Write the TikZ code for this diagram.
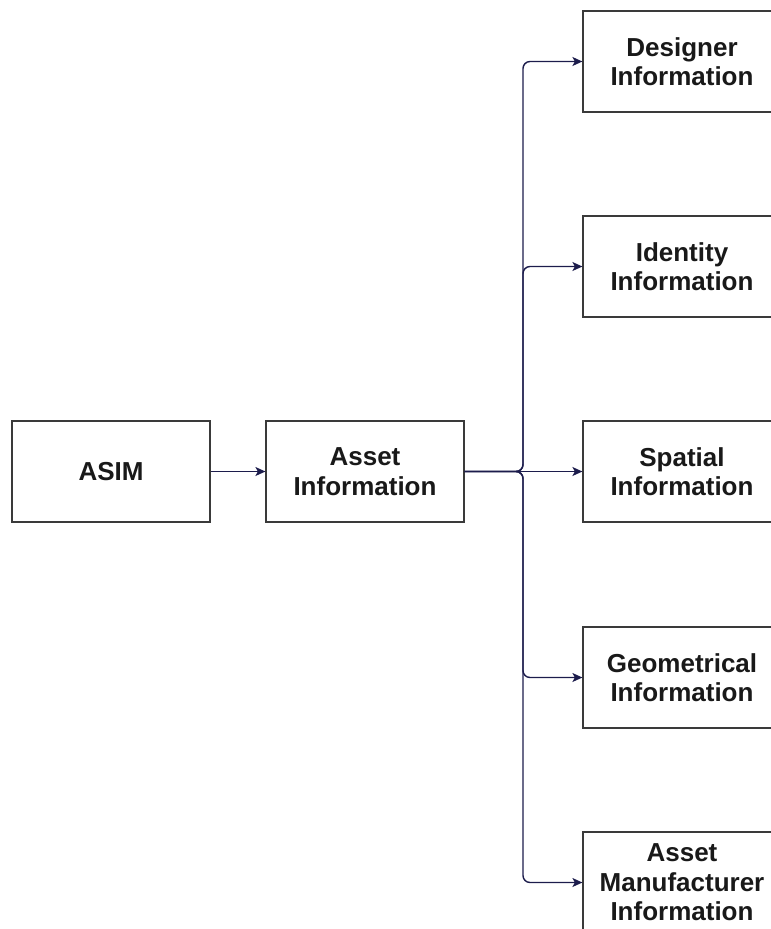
\documentclass[tikz,border=0pt]{standalone}
\usepackage{fontspec}
\setmainfont{Liberation Sans}
\usetikzlibrary{arrows.meta}
\definecolor{linkblue}{HTML}{1C1C4C}
\definecolor{boxline}{HTML}{3A3A3A}
\tikzset{
  block/.style={draw=boxline, line width=1.2pt, fill=white, minimum width=198pt,
    minimum height=101pt, align=center, inner sep=0pt,
    font=\fontsize{26pt}{29.5pt}\selectfont\bfseries, text=black!90},
  link/.style={draw=linkblue, line width=1.4pt, rounded corners=7pt,
    -{Stealth[length=10pt,width=9pt,inset=2.5pt]}}
}
\begin{document}
\begin{tikzpicture}[x=1pt,y=-1pt]
\useasboundingbox (0,0) rectangle (771,929);
\clip (0,0) rectangle (771,929);
\node[block] (asim) at (111,471.5) {ASIM};
\node[block] (ai) at (365,471.5) {Asset\\Information};
\node[block] (des) at (682,61.5) {Designer\\Information};
\node[block] (idn) at (682,266.5) {Identity\\Information};
\node[block] (spa) at (682,471.5) {Spatial\\Information};
\node[block] (geo) at (682,677.5) {Geometrical\\Information};
\node[block] (man) at (682,882.5) {Asset\\Manufacturer\\Information};
\coordinate (fork) at (523,471.5);
\draw[link] (asim) -- (ai);
\draw[link] (ai.east) -- (fork) |- (des.west);
\draw[link] (ai.east) -- (fork) |- (idn.west);
\draw[link] (ai.east) -- (spa.west);
\draw[link] (ai.east) -- (fork) |- (geo.west);
\draw[link] (ai.east) -- (fork) |- (man.west);
\end{tikzpicture}
\end{document}
